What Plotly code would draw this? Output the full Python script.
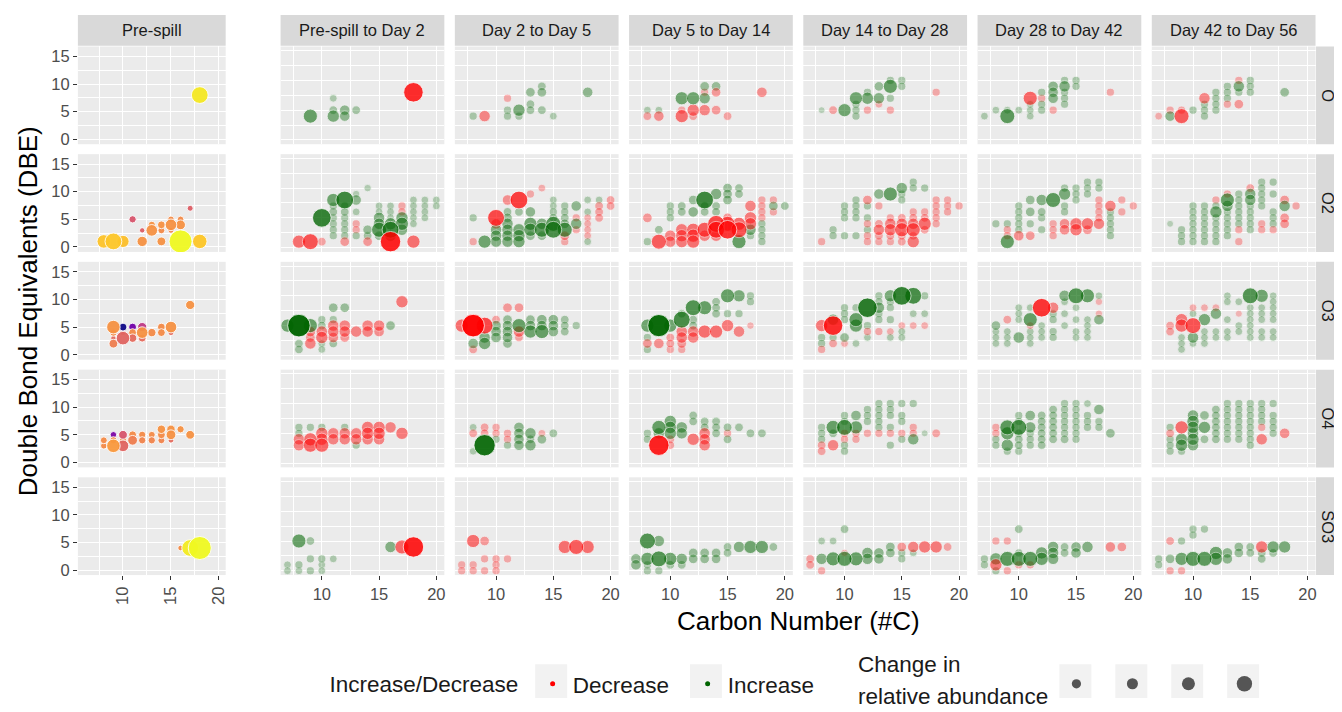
import plotly.graph_objects as go

# ---------------- data ----------------
intervals = ["Pre-spill to Day 2", "Day 2 to Day 5", "Day 5 to Day 14",
             "Day 14 to Day 28", "Day 28 to Day 42", "Day 42 to Day 56"]
classes = ["O", "O2", "O3", "O4", "SO3"]

# Pre-spill: (carbon number, DBE, relative abundance, colour value)
pre_O = [(18, 8, .62, .96)]
pre_O2 = [(8, 1, .45, .87), (9, 1, .62, .88), (10, 1, .38, .86), (11, 5, .12, .55), (12, 3, .02, .58),
          (12, 1, .28, .74), (13, 4, .12, .74), (13, 3, .35, .74), (14, 4, .15, .74), (14, 3, .10, .72),
          (14, 1, .20, .74), (15, 5, .08, .72), (15, 4, .35, .74), (15, 3, .05, .70), (16, 5, .08, .72),
          (16, 4, .25, .74), (16, 1, .95, 1.0), (17, 7, .05, .58), (18, 1, .50, .88)]
pre_O3 = [(10, 5, .15, 0.0), (11, 5, .15, .22), (12, 5, .22, .45), (9, 5, .45, .74), (9, 4, .12, .72),
          (10, 4, .05, .62), (11, 4, .15, .72), (12, 4, .35, .74), (13, 4, .18, .72), (14, 5, .15, .72),
          (14, 4, .15, .72), (15, 5, .35, .74), (15, 4, .05, .62), (9, 3, .02, .62), (10, 3, .45, .60),
          (11, 3, .18, .62), (12, 3, .15, .62), (9, 2, .20, .68), (17, 9, .22, .74)]
pre_O4 = [(8, 4, .10, .72), (8, 3, .08, .72), (9, 5, .08, .25), (9, 4, .12, .72), (9, 3, .45, .76),
          (10, 5, .20, .55), (10, 4, .12, .72), (10, 3, .35, .60), (11, 5, .15, .72), (11, 4, .25, .68),
          (12, 5, .12, .72), (12, 4, .12, .70), (13, 5, .10, .72), (13, 4, .12, .70), (14, 6, .18, .74),
          (14, 5, .15, .72), (14, 4, .10, .70), (15, 6, .18, .74), (15, 5, .25, .74), (15, 4, .03, .62),
          (16, 6, .12, .74), (17, 5, .20, .74)]
pre_SO3 = [(16, 4, .03, .72), (17, 4, .62, .97), (18, 4, .95, 1.0)]

# Change panels: (carbon number, DBE, signed change; <0 decrease, >0 increase)
d2_O = [(9, 4, .45), (11, 7, .10), (11, 5, .15), (11, 4, .35), (12, 5, .25), (12, 4, .25), (13, 5, .15), (18, 8, -.75)]
d2_O2 = [(8, 1, -.40), (9, 1, -.55), (10, 1, -.15), (10, 5, .70), (11, 8, .40), (12, 8, .65), (13, 8, .25), (14, 10, .08),
         (11, 7, .12), (11, 6, .15), (11, 5, .12), (11, 4, .12), (11, 3, .12), (11, 2, .12),
         (12, 7, .12), (12, 6, .15), (12, 5, .12), (12, 4, .12), (12, 3, .12), (12, 2, .12),
         (12, 1, -.20), (13, 9, .08), (13, 6, .10), (13, 4, -.12), (13, 3, -.12), (13, 2, .12),
         (14, 3, .20), (14, 2, .15), (14, 1, -.20),
         (15, 7, .10), (15, 6, .10), (15, 5, .30), (15, 4, .30), (15, 3, .50), (15, 2, .20),
         (16, 7, .10), (16, 6, .10), (16, 5, .10), (16, 4, .35), (16, 3, .60), (16, 2, .30), (16, 1, -.80),
         (17, 7, -.12), (17, 6, -.12), (17, 5, .35), (17, 4, .40), (17, 3, .30),
         (18, 1, -.40), (18, 8, .10), (18, 7, .10), (18, 6, .10), (18, 5, .10), (18, 4, .10),
         (19, 8, .10), (19, 7, .10), (19, 6, .10), (19, 5, .10), (20, 8, .10), (20, 7, .10)]
d2_O3 = [(7, 5, .40), (8, 5, .92), (9, 5, .45), (8, 2, .15), (8, 1, .15), (9, 4, -.25), (9, 3, -.20), (9, 2, -.30),
         (10, 6, .12), (10, 5, .15), (10, 4, -.30), (10, 3, -.35), (10, 2, .10), (10, 1, .10),
         (11, 8, .20), (12, 8, .20), (11, 6, .12), (11, 5, -.30), (11, 4, -.30), (11, 3, -.25), (11, 2, .15),
         (12, 5, -.30), (12, 4, -.30), (12, 3, -.20), (13, 4, -.30), (14, 5, -.30), (14, 4, -.30),
         (15, 5, -.30), (15, 4, -.25), (16, 5, .20), (17, 9, -.35)]
d2_O4 = [(8, 6, .12), (8, 5, .12), (8, 4, -.30), (8, 3, -.30), (9, 6, .12), (9, 4, -.40), (9, 3, -.45),
         (10, 6, .12), (10, 5, -.35), (10, 4, -.35), (10, 3, -.45), (11, 5, -.30), (11, 4, -.30),
         (12, 6, .12), (12, 5, -.30), (12, 4, -.30), (13, 5, -.30), (13, 4, -.30), (13, 3, .12),
         (14, 6, -.35), (14, 5, -.35), (14, 4, -.30), (15, 6, -.35), (15, 5, -.35), (15, 4, -.30),
         (16, 6, -.30), (17, 5, -.35)]
d2_SO3 = [(8, 5, .45), (9, 5, .15), (16, 4, .30), (17, 4, -.45), (18, 4, -.80),
          (7, 1, .10), (7, 0, .10), (8, 1, .12), (8, 0, .10), (9, 2, .12), (9, 0, .12),
          (10, 2, .12), (10, 1, .10), (10, 0, .10), (11, 2, .10)]

d5_O = [(8, 4, .12), (9, 4, -.30), (11, 7, -.12), (11, 5, .12), (11, 4, .12), (12, 5, .35), (12, 4, .12),
        (13, 8, .20), (13, 6, .15), (13, 5, .15), (14, 9, .15), (14, 8, .20), (14, 5, .15), (15, 4, .10), (18, 8, .25)]
d5_O2 = [(8, 5, .12), (8, 1, -.12), (10, 5, -.60), (11, 8, -.25), (12, 8, -.65), (13, 9, -.12), (14, 10, -.10),
         (9, 1, .40), (10, 3, .30), (10, 2, .30), (10, 1, .30), (10, 4, -.25),
         (11, 4, .30), (11, 3, .30), (11, 2, .30), (11, 1, .30), (11, 5, .20), (11, 6, .15),
         (12, 3, .35), (12, 2, .35), (12, 1, .35), (12, 6, .15),
         (13, 6, .25), (13, 4, .40), (13, 3, .40), (13, 2, .20),
         (14, 4, .30), (14, 3, .50), (14, 2, .20),
         (15, 8, .10), (15, 7, .10), (15, 6, .12), (15, 5, .15), (15, 4, .50), (15, 3, .60),
         (16, 7, .12), (16, 6, .12), (16, 5, .15), (16, 4, .20), (16, 3, .50), (16, 2, -.20), (16, 1, -.12),
         (17, 7, .25), (17, 4, .30), (17, 5, -.12), (17, 3, -.12),
         (18, 8, .10), (18, 6, .10), (18, 5, -.10), (18, 4, -.10), (18, 3, -.10), (18, 2, -.10), (18, 1, .10),
         (19, 8, .10), (19, 7, -.15), (19, 6, -.15), (19, 5, -.15), (20, 8, -.15), (20, 7, -.15)]
d5_O3 = [(7, 5, -.40), (8, 5, -.92), (9, 5, -.60), (11, 8, -.20), (12, 8, -.20), (10, 6, -.15),
         (10, 5, .25), (10, 4, .25), (10, 3, .25), (9, 3, .30), (9, 2, .35), (8, 2, .25), (8, 1, -.15),
         (11, 6, .20), (11, 5, .25), (11, 4, .25), (11, 3, .25), (11, 2, .20),
         (12, 5, .45), (12, 4, -.30), (12, 3, -.15),
         (13, 6, .20), (13, 5, .25), (13, 4, .40),
         (14, 6, .25), (14, 5, .25), (14, 4, .45),
         (15, 6, .25), (15, 5, .25), (15, 4, .25),
         (16, 6, .15), (16, 5, .15), (16, 4, .15), (17, 5, .12)]
d5_O4 = [(8, 6, .10), (8, 5, -.15), (8, 2, .10), (9, 6, -.15), (9, 5, -.15), (9, 3, .85),
         (10, 6, -.12), (10, 5, -.12), (10, 4, .12), (11, 5, -.12), (11, 4, -.12), (11, 3, .12),
         (12, 6, .25), (12, 5, .25), (12, 4, .25), (12, 3, .25), (13, 5, .30), (13, 4, .15), (13, 3, .30),
         (14, 5, -.10), (14, 4, .20), (15, 5, .15)]
d5_SO3 = [(8, 5, -.40), (9, 5, -.20), (16, 4, -.40), (17, 4, -.50), (18, 4, -.40),
          (7, 1, -.12), (7, 0, -.12), (8, 1, -.12), (8, 0, -.12), (9, 2, -.12), (9, 0, -.12),
          (10, 2, -.12), (10, 1, -.12), (10, 0, -.12), (11, 2, -.12)]

d14_O = [(8, 5, .10), (8, 4, -.15), (9, 5, .10), (9, 4, -.25), (11, 7, .40), (12, 7, .40), (11, 4, -.40), (11, 5, -.12),
         (12, 5, -.35), (12, 4, -.15), (13, 9, .20), (13, 8, -.12), (13, 7, .30), (13, 5, -.30), (14, 9, .20),
         (14, 8, -.20), (14, 5, -.20), (15, 4, -.15), (18, 8, -.25)]
d14_O2 = [(8, 5, -.20), (8, 1, .12), (9, 1, -.50), (9, 3, .15), (10, 2, -.30), (10, 1, -.30), (10, 7, .12), (10, 6, .12),
          (10, 5, .12), (11, 3, -.35), (11, 2, -.35), (11, 1, -.35), (11, 7, .15), (11, 6, .15),
          (12, 8, .20), (12, 6, .25), (12, 3, -.40), (12, 2, -.40), (12, 1, -.40),
          (13, 8, .65), (13, 7, .15), (13, 6, .15), (13, 3, -.50), (13, 2, -.30),
          (14, 9, .30), (14, 7, .15), (14, 6, .15), (14, 4, -.60), (14, 3, -.60), (14, 2, -.30),
          (15, 10, .20), (15, 9, .20), (15, 8, .20), (15, 5, -.20), (15, 4, -.50), (15, 3, -.70),
          (16, 10, .15), (16, 9, .15), (16, 4, -.40), (16, 3, -.55), (16, 1, .45),
          (17, 7, -.30), (17, 5, -.35), (17, 4, -.35), (17, 3, .30), (17, 2, .12),
          (18, 8, -.12), (18, 7, -.12), (18, 6, -.12), (18, 5, -.12), (18, 4, .12), (18, 3, .12), (18, 2, .12),
          (18, 1, .12), (19, 8, -.12), (19, 7, .20), (19, 6, -.12), (20, 7, .15)]
d14_O3 = [(8, 5, .40), (9, 5, .90), (8, 2, -.20), (9, 2, -.25), (8, 3, .12), (8, 1, .12),
          (10, 5, .40), (11, 6, .60), (11, 7, .15), (12, 8, .55), (13, 8, .45), (15, 10, .45), (16, 10, .35),
          (14, 9, .15), (14, 8, .15), (14, 7, .15), (17, 10, .12), (17, 9, .12),
          (11, 4, -.30), (11, 3, -.30), (11, 2, -.20), (12, 4, -.30), (12, 3, -.30), (13, 4, -.40), (14, 4, -.40),
          (15, 5, -.35), (16, 4, -.30), (10, 3, -.15), (10, 2, -.15), (10, 1, -.12), (17, 5, -.08),
          (12, 6, .15), (12, 5, .15), (15, 7, .12), (16, 7, .12), (11, 1, -.12)]
d14_O4 = [(8, 5, .12), (8, 4, .12), (9, 3, -.80), (9, 6, .45), (9, 5, .30), (10, 7, .35), (10, 6, .35), (10, 5, .35),
          (11, 6, .30), (11, 5, .30), (10, 4, -.15), (10, 3, -.15), (12, 8, .15), (12, 7, .15), (12, 4, -.35),
          (13, 5, -.30), (13, 4, -.30), (13, 3, -.30), (13, 7, .15), (13, 6, .15),
          (14, 7, .15), (14, 6, .15), (14, 5, .15), (15, 6, .15), (15, 4, .15), (15, 5, -.12), (16, 6, .15),
          (17, 5, .15), (18, 5, .15)]
d14_SO3 = [(8, 5, .55), (9, 5, .30), (7, 2, .25), (7, 1, .25), (8, 2, .40), (9, 2, .55), (8, 1, .12), (8, 0, .12),
           (9, 0, .12), (10, 2, .40), (11, 2, .30), (10, 1, .15), (11, 1, .15), (12, 3, .20), (12, 2, .20),
           (13, 3, .20), (13, 2, .20), (14, 3, .20), (14, 2, .20), (15, 4, .15), (15, 3, .15), (16, 4, .30),
           (17, 4, .40), (18, 4, .40), (19, 4, .15)]

d28_O = [(8, 5, .05), (9, 5, -.15), (10, 5, .40), (11, 7, .40), (11, 6, .12), (11, 5, .12), (11, 4, .12),
         (12, 8, .12), (12, 7, .35), (12, 5, -.12), (13, 9, .20), (13, 7, .30), (13, 6, -.10), (14, 9, .45),
         (14, 10, .12), (14, 7, .12), (14, 5, -.12), (15, 10, .12), (15, 9, .12), (18, 8, -.12)]
d28_O2 = [(8, 1, -.12), (9, 3, .12), (9, 2, .12), (10, 7, .12), (10, 6, .12), (10, 5, .12), (10, 2, .12),
          (11, 8, .12), (11, 7, .12), (11, 6, .12), (11, 5, .12), (11, 2, .12),
          (12, 8, -.20), (12, 7, .12), (12, 5, .12), (12, 3, .12), (12, 4, -.12), (12, 2, -.12), (12, 1, -.12),
          (13, 9, .25), (13, 7, -.12), (13, 3, -.30), (13, 4, -.15), (13, 2, -.15), (13, 1, -.12),
          (14, 9, .45), (14, 3, -.35), (14, 4, -.30), (14, 5, -.12), (14, 2, -.15), (14, 1, -.12),
          (15, 10, .30), (15, 9, .12), (15, 8, .12), (15, 3, -.45), (15, 4, -.30), (15, 5, -.15), (15, 2, -.15),
          (15, 1, -.15), (16, 11, .12), (16, 10, .12), (16, 3, -.45), (16, 4, -.30), (16, 1, -.35), (16, 2, -.15),
          (16, 5, -.15), (16, 6, -.12), (17, 10, .12), (17, 4, -.40), (17, 3, -.15), (17, 5, -.15), (17, 6, -.12),
          (18, 8, -.12), (18, 7, -.12), (18, 6, -.12), (18, 5, -.12), (18, 4, -.12),
          (19, 8, -.12), (19, 7, -.12), (19, 6, -.12), (20, 7, -.12)]
d28_O3 = [(8, 5, -.35), (9, 5, -.75), (9, 6, .30), (8, 3, .12), (8, 2, .12), (8, 1, -.12), (9, 3, .12), (9, 2, -.15),
          (10, 3, .20), (10, 8, .12), (10, 7, .12), (10, 6, .12), (10, 2, -.10), (11, 6, .45), (11, 5, .40),
          (11, 8, .12), (11, 2, .10), (12, 8, .75), (12, 5, .12), (12, 4, -.12), (12, 3, .10),
          (13, 8, .30), (13, 10, .12), (13, 9, .12), (13, 7, .12), (13, 6, .12), (13, 4, -.12),
          (14, 10, .35), (14, 9, .12), (14, 8, .12), (14, 6, .12), (14, 4, -.10), (14, 3, .10),
          (15, 10, .70), (15, 5, -.10), (15, 4, .10), (15, 3, .10), (16, 10, .60), (16, 5, -.10), (16, 7, .10),
          (17, 10, .12), (17, 5, -.10), (17, 7, .10)]
d28_O4 = [(8, 6, .12), (8, 5, .12), (8, 4, .12), (8, 3, -.15), (8, 2, -.15), (9, 6, .45), (9, 5, .15), (9, 3, -.30),
          (10, 8, .12), (10, 7, .12), (10, 6, .55), (10, 5, -.12), (10, 4, -.12), (10, 3, .12), (10, 2, .12),
          (11, 8, .25), (11, 6, .40), (11, 5, -.12), (11, 4, -.12),
          (12, 9, .12), (12, 8, .12), (12, 7, .12), (12, 5, -.12),
          (13, 10, .12), (13, 9, .12), (13, 8, .12), (13, 7, .12), (13, 6, .12), (13, 5, -.12),
          (14, 10, .12), (14, 9, .12), (14, 8, .12), (14, 6, .12), (14, 5, -.12), (14, 3, .12),
          (15, 10, .12), (15, 8, .12), (15, 7, .12), (15, 5, -.12), (15, 4, .12),
          (16, 10, .12), (16, 6, -.12), (16, 5, -.12), (16, 4, .30), (17, 5, .05), (18, 5, -.15)]
d28_SO3 = [(8, 5, .10), (9, 5, .10), (10, 7, .15), (7, 2, -.15), (7, 1, -.15), (8, 2, .30), (8, 0, -.12),
           (9, 2, .45), (10, 2, .50), (10, 3, -.08), (11, 2, .45), (12, 3, .30), (12, 2, .30), (13, 3, .25),
           (13, 2, .25), (14, 4, .20), (14, 3, .20), (15, 3, .12), (15, 2, .12), (15, 4, -.20), (16, 4, -.30),
           (16, 3, .10), (17, 4, -.35), (18, 4, -.35), (19, 4, -.15)]

d42_O = [(7, 4, .10), (8, 5, .10), (9, 4, .50), (9, 5, .10), (10, 5, .10), (11, 7, -.45), (11, 6, .10), (11, 5, .10),
         (11, 4, .10), (12, 7, -.12), (12, 8, .12), (12, 6, .12), (12, 5, .12), (13, 5, -.12), (13, 9, .25),
         (13, 8, .25), (13, 7, .25), (14, 9, .30), (14, 10, .12), (14, 8, .12), (14, 7, .12), (14, 6, .12),
         (15, 10, .12), (15, 9, .12), (18, 8, -.12)]
d42_O2 = [(8, 4, .12), (9, 4, .12), (9, 1, .45), (9, 3, -.12), (9, 2, -.12),
          (10, 7, .12), (10, 6, .12), (10, 5, .12), (10, 4, .12), (10, 3, .12), (10, 2, -.25),
          (11, 8, .20), (11, 6, .20), (11, 2, -.20), (11, 4, .12),
          (12, 8, .30), (12, 6, .15), (12, 5, .12), (12, 3, .12),
          (13, 8, .50), (13, 4, -.12), (13, 3, -.12), (13, 2, -.12),
          (14, 9, .35), (14, 10, .12), (14, 7, .12), (14, 6, .12), (14, 4, -.25), (14, 3, -.25),
          (15, 10, .12), (15, 9, .12), (15, 8, .12), (15, 4, -.35), (15, 3, -.35),
          (16, 4, -.35), (16, 3, -.20), (16, 11, .12), (16, 10, .12), (16, 9, .12),
          (17, 11, .12), (17, 10, .12), (17, 8, -.12), (17, 7, -.12), (17, 6, -.12), (17, 5, -.12), (17, 4, -.30),
          (18, 7, -.30), (18, 6, .12), (18, 5, .12), (18, 4, .12), (18, 3, .12), (18, 2, .12),
          (19, 8, -.12), (19, 6, -.12), (20, 7, -.12)]
d42_O3 = [(8, 5, .20), (8, 4, .10), (8, 3, .10), (8, 2, .10), (9, 6, -.15), (9, 4, .10), (9, 3, .10), (9, 2, .10),
          (10, 6, .10), (10, 7, .10), (10, 8, .10), (10, 3, .30), (11, 6, .45), (12, 8, -.70), (13, 8, -.30),
          (11, 8, .10), (11, 4, .10), (11, 3, .10), (11, 2, .10), (12, 5, .10), (12, 4, .10), (12, 3, .10),
          (11, 5, -.10), (13, 7, .12), (13, 6, .12), (13, 4, .12), (13, 3, .12),
          (14, 10, .30), (14, 9, .10), (14, 7, .10), (14, 5, .10),
          (15, 10, .55), (15, 8, .10), (15, 6, .10), (15, 4, .10), (15, 3, .10),
          (16, 10, .45), (16, 6, .10), (16, 5, .10), (16, 4, .10), (16, 3, .10),
          (17, 10, .10), (17, 9, -.08), (17, 6, .25), (17, 7, -.08)]
d42_O4 = [(8, 6, -.12), (8, 5, -.12), (8, 4, .12), (8, 3, .12), (9, 6, .50), (9, 5, .40), (9, 3, .35), (9, 2, .12),
          (10, 6, .55), (10, 8, .12), (10, 7, .12), (10, 5, .15), (10, 4, .15), (10, 3, .15), (10, 2, .12),
          (11, 8, .25), (11, 6, .30), (11, 5, .12), (11, 4, .12), (11, 3, .12),
          (12, 8, .15), (12, 7, .15), (12, 6, .15), (12, 5, .15), (12, 4, .15), (12, 3, .15),
          (13, 9, .15), (13, 8, .15), (13, 7, .15), (13, 6, .15), (13, 5, .15), (13, 4, .15),
          (14, 10, .12), (14, 9, .12), (14, 8, .12), (14, 7, .12), (14, 6, .12), (14, 5, .12), (14, 4, .15),
          (15, 10, .12), (15, 9, .12), (15, 8, .12), (15, 7, .12), (15, 6, .12), (15, 5, .12), (15, 4, .12),
          (16, 10, .10), (16, 8, .12), (16, 7, .12), (16, 6, .12), (17, 9, .25), (17, 7, .12), (17, 6, .12),
          (18, 5, .20)]
d42_SO3 = [(10, 7, .15), (8, 5, -.12), (9, 5, -.12), (7, 2, .12), (7, 1, .12), (8, 2, .35), (8, 1, -.35), (8, 0, .12),
           (9, 0, -.12), (9, 2, .50), (10, 2, .50), (10, 3, .12), (10, 1, -.12), (11, 2, .50), (11, 1, -.12),
           (12, 3, .35), (12, 2, .40), (13, 4, .30), (13, 3, .30), (13, 2, .30), (14, 4, .15), (14, 3, .15),
           (15, 4, .25), (15, 3, .25), (16, 4, .30), (18, 4, -.25), (19, 4, -.20)]

d56_O = [(7, 4, -.10), (8, 4, .25), (8, 5, -.12), (9, 4, -.50), (9, 5, -.12), (10, 5, .12), (11, 7, -.30), (11, 6, .12),
         (11, 5, .12), (11, 4, .12), (12, 8, .12), (12, 7, .12), (12, 6, .12), (12, 5, .12), (13, 9, .12),
         (13, 8, .12), (13, 7, .12), (13, 6, -.12), (14, 9, .30), (14, 8, .12), (14, 10, -.12), (14, 6, -.20),
         (15, 10, .12), (15, 9, .12), (15, 8, .12), (18, 8, .20)]
d56_O2 = [(8, 4, .05), (9, 3, .12), (9, 2, .12), (9, 1, .12),
          (10, 7, .12), (10, 6, .12), (10, 5, .12), (10, 4, .12), (10, 3, .12), (10, 2, .12), (10, 1, .12),
          (11, 7, .12), (11, 6, .12), (11, 5, .12), (11, 4, .12), (11, 3, .12), (11, 2, .12), (11, 1, .12),
          (12, 8, -.12), (12, 6, .35), (12, 7, .12), (12, 5, .12), (12, 4, .12), (12, 3, .12), (12, 2, .12),
          (12, 1, .12), (13, 9, -.12), (13, 8, .45), (13, 7, .30), (13, 6, .12), (13, 5, .12), (13, 4, .12),
          (13, 3, .12), (13, 2, .12), (14, 9, .12), (14, 8, .12), (14, 7, .12), (14, 6, .12), (14, 5, .12),
          (14, 4, .12), (14, 3, -.12), (14, 1, -.12), (15, 10, -.15), (15, 9, .30), (15, 8, .30), (15, 7, .12),
          (15, 6, .12), (15, 5, .12), (15, 4, .12), (15, 3, .12), (16, 11, .12), (16, 10, .12), (16, 9, .12),
          (16, 8, .12), (16, 7, .12), (16, 4, -.12), (16, 3, -.12), (17, 11, .12), (17, 9, .12), (17, 6, .12),
          (17, 5, .12), (17, 4, .12), (17, 3, -.12), (18, 8, -.20), (18, 7, .30), (18, 5, -.20), (18, 4, -.20),
          (19, 7, -.12)]
d56_O3 = [(8, 5, -.15), (8, 4, -.15), (9, 6, -.35), (9, 5, -.40), (10, 5, -.55), (9, 3, .10), (9, 2, .10), (9, 1, .10),
          (10, 7, .10), (10, 3, .30), (10, 2, .10), (10, 8, -.10), (11, 8, -.10), (12, 8, -.10),
          (11, 6, .35), (12, 7, .30), (11, 4, .10), (11, 3, .10), (11, 2, .10), (12, 4, .10), (12, 3, .10),
          (13, 10, .10), (13, 9, .10), (13, 6, .10), (13, 4, .10), (13, 3, .10),
          (14, 9, .10), (14, 5, .10), (14, 4, .10), (14, 7, -.06),
          (15, 10, .55), (15, 8, .10), (15, 7, .10), (15, 6, .10), (15, 5, .10), (15, 4, .10), (15, 3, .10),
          (16, 10, .40), (16, 8, .10), (16, 7, .10), (16, 6, .10), (16, 4, .10), (16, 3, .10),
          (17, 10, .10), (17, 9, .10), (17, 8, .10), (17, 7, .10), (17, 6, .10), (17, 4, .10), (17, 3, .10)]
d56_O4 = [(8, 6, .12), (8, 5, -.15), (8, 4, .12), (8, 3, .12), (8, 2, .12), (9, 6, -.40), (9, 4, .35), (9, 3, .35),
          (9, 2, .12), (10, 8, .30), (10, 7, .35), (10, 6, .35), (10, 5, .30), (10, 4, .35), (10, 3, .30),
          (11, 8, .20), (11, 6, .35), (11, 4, .15),
          (12, 9, .15), (12, 8, .15), (12, 7, .15), (12, 6, .15), (12, 5, .15), (12, 4, .15),
          (13, 10, .12), (13, 9, .12), (13, 8, .12), (13, 7, .12), (13, 6, .12), (13, 5, .12), (13, 4, .12),
          (14, 10, .12), (14, 9, .12), (14, 8, .12), (14, 7, .12), (14, 6, .12), (14, 5, .12), (14, 4, .12),
          (15, 10, .12), (15, 9, .12), (15, 8, .12), (15, 7, .12), (15, 6, .12), (15, 5, .12), (15, 4, .12),
          (15, 3, .12), (16, 10, .12), (16, 9, .12), (16, 8, .12), (16, 7, .12), (16, 6, -.12), (16, 4, -.30),
          (17, 10, .12), (17, 8, .12), (17, 7, .12), (17, 6, .12), (17, 5, .12), (18, 5, -.25)]
d56_SO3 = [(10, 7, .12), (10, 6, .12), (11, 7, .12), (8, 5, -.15), (9, 5, .12), (7, 2, .12), (7, 1, .12), (8, 2, .20),
           (8, 0, -.12), (9, 2, .40), (9, 0, -.12), (10, 2, .50), (11, 2, .50), (12, 3, .40), (12, 2, .40),
           (13, 3, .25), (13, 2, .25), (14, 4, .20), (14, 3, .20), (15, 4, .15), (15, 3, .15), (16, 4, -.35),
           (16, 3, .15), (16, 2, .15), (17, 4, .35), (17, 3, .15), (18, 4, .35)]

size_legend_levels = [0.18, 0.28, 0.39, 0.52]

pre_panels = [pre_O, pre_O2, pre_O3, pre_O4, pre_SO3]
change_panels = [
    [d2_O, d2_O2, d2_O3, d2_O4, d2_SO3],
    [d5_O, d5_O2, d5_O3, d5_O4, d5_SO3],
    [d14_O, d14_O2, d14_O3, d14_O4, d14_SO3],
    [d28_O, d28_O2, d28_O3, d28_O4, d28_SO3],
    [d42_O, d42_O2, d42_O3, d42_O4, d42_SO3],
    [d56_O, d56_O2, d56_O3, d56_O4, d56_SO3],
]

# ---------------- layout geometry (page pixels) ----------------
OFF = 8                      # page body margin of the html page
W, H = 1342 - OFF, 712 - OFF  # figure size
FONT = "Liberation Sans, Arial, Helvetica, sans-serif"
TXT = "#1A1A1A"
RED, GREEN = "#FF0000", "#006400"
col_px = [(78, 226), (281, 445), (455.5, 619.5), (630, 794), (804.5, 968.5), (979, 1143), (1153.5, 1317.5)]
row_px = [(46.7, 145), (155, 253.3), (263.3, 361.7), (371.7, 470), (480, 578.3)]
strip_top = (15, 46)
strip_right = (1318, 1342)
LEG_Y = 685
LEG1_X, LEG1_DOT, LEG1_STEP = 328, 552, 155
LEG2_X, LEG2_DOT, LEG2_STEP = 1058, 1077, 56


def px_x(v):
    return (v - OFF) / W


def px_y(v):
    return 1 - (v - OFF) / H


def msize(v):
    return 6 + 18 * abs(v)


def malpha(v):
    return min(1.0, 0.18 + 0.85 * abs(v))


fig = go.Figure()
layout_axes = {}

for r in range(5):
    for c in range(7):
        idx = r * 7 + c + 1
        xa = "xaxis" if idx == 1 else f"xaxis{idx}"
        ya = "yaxis" if idx == 1 else f"yaxis{idx}"
        xr = "x" if idx == 1 else f"x{idx}"
        yr = "y" if idx == 1 else f"y{idx}"
        x0, x1 = col_px[c]
        y0, y1 = row_px[r]
        grid = dict(showgrid=True, gridcolor="white", gridwidth=1.3, zeroline=False, showline=False,
                    dtick=5, tick0=0,
                    minor=dict(dtick=2.5, tick0=0, showgrid=True, gridcolor="white", gridwidth=0.6),
                    tickfont=dict(family=FONT, size=16.5, color="#4D4D4D"),
                    ticklen=4, tickwidth=1.1, tickcolor="#333333", fixedrange=True)
        layout_axes[xa] = dict(grid, domain=[px_x(x0), px_x(x1)], anchor=yr,
                               range=[5.3, 20.7] if c == 0 else [6.4, 20.7],
                               ticks="outside" if r == 4 else "", showticklabels=(r == 4),
                               tickangle=-90 if c == 0 else 0)
        layout_axes[ya] = dict(grid, domain=[px_y(y1), px_y(y0)], anchor=xr,
                               range=[-0.9, 16.8] if c == 0 else [-0.72, 15.7],
                               ticks="outside" if c == 0 else "", showticklabels=(c == 0))

        if c == 0:
            pts = sorted(pre_panels[r], key=lambda p: p[2])
            fig.add_trace(go.Scatter(
                x=[p[0] for p in pts], y=[p[1] for p in pts], mode="markers",
                xaxis=xr, yaxis=yr, showlegend=False, hoverinfo="skip",
                marker=dict(size=[5 + 19 * p[2] for p in pts], color=[p[3] for p in pts],
                            colorscale="Plasma", cmin=0, cmax=1, opacity=0.95,
                            line=dict(color="white", width=0.9))))
        else:
            pts = sorted(change_panels[c - 1][r], key=lambda p: abs(p[2]))
            fig.add_trace(go.Scatter(
                x=[p[0] for p in pts], y=[p[1] for p in pts], mode="markers",
                xaxis=xr, yaxis=yr, showlegend=False, hoverinfo="skip",
                marker=dict(size=[msize(p[2]) for p in pts],
                            color=[GREEN if p[2] > 0 else RED for p in pts],
                            opacity=[malpha(p[2]) for p in pts],
                            line=dict(color="white", width=0.8))))

# legend entries
fig.add_trace(go.Scatter(x=[None], y=[None], mode="markers", name="Decrease", legend="legend",
                         marker=dict(color=RED, size=5), showlegend=True))
fig.add_trace(go.Scatter(x=[None], y=[None], mode="markers", name="Increase", legend="legend",
                         marker=dict(color=GREEN, size=5), showlegend=True))
for i, lv in enumerate(size_legend_levels):
    fig.add_trace(go.Scatter(x=[None], y=[None], mode="markers", name=" ", legend="legend2",
                             marker=dict(color="#555555", size=msize(lv)), showlegend=True))

shapes = []
annotations = []
# top strips
strip_titles = ["Pre-spill"] + intervals
for c in range(7):
    x0, x1 = col_px[c]
    shapes.append(dict(type="rect", xref="paper", yref="paper", x0=px_x(x0), x1=px_x(x1),
                       y0=px_y(strip_top[1]), y1=px_y(strip_top[0]), fillcolor="#D9D9D9",
                       line=dict(width=0), layer="below"))
    annotations.append(dict(text=strip_titles[c], xref="paper", yref="paper",
                            x=px_x((x0 + x1) / 2), y=px_y(sum(strip_top) / 2), showarrow=False,
                            xanchor="center", yanchor="middle",
                            font=dict(family=FONT, size=16.5, color=TXT)))
# right strips
for r in range(5):
    y0, y1 = row_px[r]
    shapes.append(dict(type="rect", xref="paper", yref="paper", x0=px_x(strip_right[0]), x1=px_x(strip_right[1]),
                       y0=px_y(y1), y1=px_y(y0), fillcolor="#D9D9D9", line=dict(width=0), layer="below"))
    annotations.append(dict(text=classes[r], xref="paper", yref="paper",
                            x=px_x(1330), y=px_y((y0 + y1) / 2), showarrow=False, textangle=90,
                            xanchor="center", yanchor="middle",
                            font=dict(family=FONT, size=16.5, color=TXT)))
# legend key backgrounds
for k in range(2):
    cx = LEG1_DOT + k * LEG1_STEP
    shapes.append(dict(type="rect", xref="paper", yref="paper", x0=px_x(cx - 16), x1=px_x(cx + 16),
                       y0=px_y(LEG_Y + 17), y1=px_y(LEG_Y - 17), fillcolor="#F2F2F2", line=dict(width=0)))
for k in range(4):
    cx = LEG2_DOT + k * LEG2_STEP
    shapes.append(dict(type="rect", xref="paper", yref="paper", x0=px_x(cx - 16), x1=px_x(cx + 16),
                       y0=px_y(LEG_Y + 17), y1=px_y(LEG_Y - 17), fillcolor="#F2F2F2", line=dict(width=0)))
# size legend title
annotations.append(dict(text="Change in", xref="paper", yref="paper", x=px_x(857), y=px_y(668),
                        showarrow=False, xanchor="left", yanchor="middle",
                        font=dict(family=FONT, size=22.5, color=TXT)))
annotations.append(dict(text="relative abundance", xref="paper", yref="paper", x=px_x(857), y=px_y(700),
                        showarrow=False, xanchor="left", yanchor="middle",
                        font=dict(family=FONT, size=22.5, color=TXT)))
# axis titles
annotations.append(dict(text="Double Bond Equivalents (DBE)", xref="paper", yref="paper",
                        x=px_x(27.5), y=px_y(312.5), showarrow=False, textangle=-90,
                        xanchor="center", yanchor="middle", font=dict(family=FONT, size=26, color="black")))
annotations.append(dict(text="Carbon Number (#C)", xref="paper", yref="paper",
                        x=px_x(799.5), y=px_y(624), showarrow=False,
                        xanchor="center", yanchor="middle", font=dict(family=FONT, size=26, color="black")))

fig.update_layout(
    width=W, height=H, autosize=False,
    margin=dict(l=0, r=0, t=0, b=0),
    paper_bgcolor="white", plot_bgcolor="#EBEBEB",
    font=dict(family=FONT, color=TXT),
    shapes=shapes, annotations=annotations,
    showlegend=True,
    legend=dict(orientation="h", x=px_x(LEG1_X), xanchor="left", y=px_y(LEG_Y + 3), yanchor="middle",
                title=dict(text="Increase/Decrease\u00a0", side="left",
                           font=dict(family=FONT, size=22.5, color=TXT)),
                font=dict(family=FONT, size=22.5, color=TXT), bgcolor="rgba(0,0,0,0)",
                itemsizing="trace", itemwidth=30, entrywidth=110),
    legend2=dict(orientation="h", x=px_x(LEG2_X), xanchor="left", y=px_y(LEG_Y + 3), yanchor="middle",
                 font=dict(family=FONT, size=22.5, color=TXT), bgcolor="rgba(0,0,0,0)",
                 itemsizing="trace", itemwidth=30, entrywidth=11),
    **layout_axes,
)

fig.write_html("out.html")
